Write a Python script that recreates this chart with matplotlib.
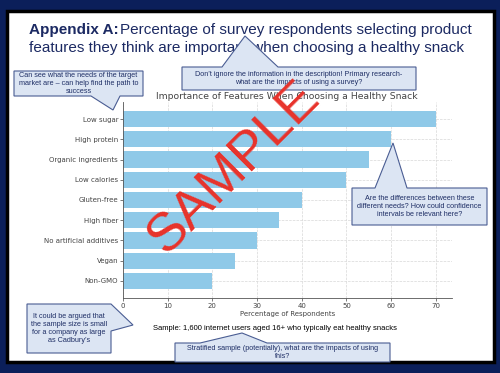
import matplotlib.pyplot as plt
from matplotlib.patches import Polygon, Rectangle

features = ['Low sugar', 'High protein', 'Organic ingredients', 'Low calories',
            'Gluten-free', 'High fiber', 'No artificial additives', 'Vegan', 'Non-GMO']
percent = [70, 60, 55, 50, 40, 35, 30, 25, 20]
xticks = [0, 10, 20, 30, 40, 50, 60, 70]

W, H = 500, 373
navy = '#0b1f5a'
box_fill = '#dce5f3'
box_edge = '#4a5d93'
box_text = '#1f2f66'


def fx(x):
    return x / W


def fy(y):
    return 1 - y / H


fig = plt.figure(figsize=(5, 3.73), dpi=100, facecolor=navy)

# white slide with black frame
fig.patches.append(Rectangle((fx(6.5), fy(361.5)), fx(487), (361.5 - 11) / H,
                             transform=fig.transFigure, facecolor='white',
                             edgecolor='black', lw=2.5, zorder=-5))

# slide heading
fig.text(fx(29), fy(30), 'Appendix A:', fontsize=11, fontweight='bold', color='#1c2a63',
         va='center', family='Liberation Sans')
fig.text(fx(120), fy(30), 'Percentage of survey respondents selecting product',
         fontsize=11, color='#1c2a63', va='center', family='Liberation Sans')
fig.text(fx(29), fy(48), 'features they think are important when choosing a healthy snack',
         fontsize=11, color='#1c2a63', va='center', family='Liberation Sans')

# chart
ax = fig.add_axes([fx(123), fy(298), fx(451.5 - 123), (298 - 102) / H])
ax.set_facecolor('none')
ax.barh(features, percent, color='#8fc9e8', height=0.8, zorder=2)
ax.invert_yaxis()
ax.set_xlim(0, 73.5)
ax.set_xticks(xticks)
ax.grid(True, linestyle='--', color='#d8d8d8', lw=0.5, zorder=0)
ax.set_axisbelow(True)
for s in ['top', 'right']:
    ax.spines[s].set_visible(False)
for s in ['left', 'bottom']:
    ax.spines[s].set_color('#555555')
    ax.spines[s].set_linewidth(0.6)
ax.tick_params(labelsize=5, colors='#444444', length=2, width=0.5, pad=1.5)
ax.set_title('Importance of Features When Choosing a Healthy Snack', fontsize=6.7,
             color='#444444', pad=2)
ax.set_xlabel('Percentage of Respondents', fontsize=5, color='#444444', labelpad=1.5)

fig.text(fx(275), fy(329), 'Sample: 1,600 internet users aged 16+ who typically eat healthy snacks',
         fontsize=5.5, color='black', ha='center', va='center', family='Liberation Sans')


def callout(pts, lines, cx, cy, size=5.2):
    poly = Polygon([(fx(x), fy(y)) for x, y in pts], closed=True, transform=fig.transFigure,
                   facecolor=box_fill, edgecolor=box_edge, lw=0.8, zorder=5)
    fig.patches.append(poly)
    fig.text(fx(cx), fy(cy), '\n'.join(lines), fontsize=size, color=box_text, ha='center',
             va='center', linespacing=1.15, family='Liberation Sans', zorder=6)


callout([(14, 71), (143, 71), (143, 96), (120, 96), (113, 110), (91, 96), (14, 96)],
        ['Can see what the needs of the target', 'market are \u2013 can help find the path to',
         'success'], 78.5, 83.5)
callout([(182, 67), (222, 67), (245, 36), (278, 67), (416, 67), (416, 90), (182, 90)],
        ['Don\u2019t ignore the information in the description! Primary research-',
         'what are the impacts of using a survey?'], 299, 78.5)
callout([(352, 188), (375, 188), (393, 143), (407, 188), (487, 188), (487, 225), (352, 225)],
        ['Are the differences between these', 'different needs? How could confidence',
         'intervals be relevant here?'], 419.5, 206.5)
callout([(27, 304), (111, 304), (133, 325), (111, 331), (111, 353), (27, 353)],
        ['It could be argued that', 'the sample size is small', 'for a company as large',
         'as Cadbury\u2019s'], 69, 328.5)
callout([(175, 343), (200, 343), (242, 333), (267, 343), (390, 343), (390, 362), (175, 362)],
        ['Stratified sample (potentially), what are the impacts of using', 'this?'], 282.5, 352.5)

# watermark
fig.text(fx(234), fy(168), 'SAMPLE', fontsize=39, color='#e8322a', rotation=45,
         ha='center', va='center', family='Liberation Sans', zorder=10)

fig.savefig('out.png', dpi=100, facecolor=navy)
